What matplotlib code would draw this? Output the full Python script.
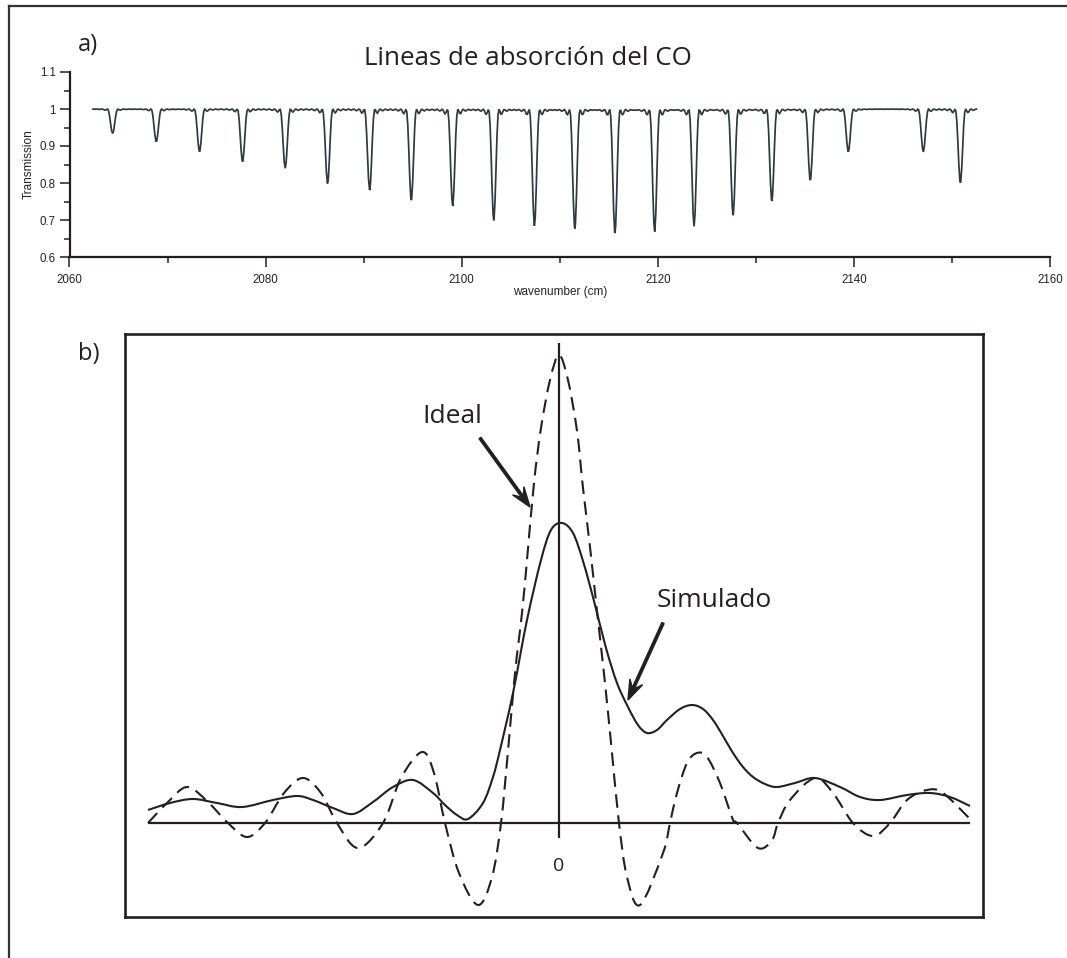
import numpy as np
import matplotlib
matplotlib.use("Agg")
import matplotlib.pyplot as plt
from matplotlib.path import Path
from matplotlib.patches import PathPatch
from matplotlib.lines import Line2D
from matplotlib.ticker import MultipleLocator, FuncFormatter

# ---- panel a: CO rovibrational lines (P and R branch) ----
line_centers = [2064.40, 2068.85, 2073.26, 2077.65, 2082.00, 2086.32, 2090.61,
                2094.86, 2099.08, 2103.27, 2107.42, 2111.54, 2115.63, 2119.68,
                2123.70, 2127.68, 2131.63, 2135.55, 2139.43, 2147.08, 2150.86]
line_minima = [0.934, 0.912, 0.885, 0.858, 0.840, 0.799, 0.781,
               0.754, 0.739, 0.700, 0.686, 0.678, 0.666, 0.670,
               0.684, 0.714, 0.752, 0.808, 0.885, 0.885, 0.801]
spectrum_start, spectrum_end = 2062.4, 2152.6
x_ticks = [2060, 2080, 2100, 2120, 2140, 2160]
y_ticks = [0.6, 0.7, 0.8, 0.9, 1.0, 1.1]

# ---- panel b: instrument line shapes (u: offset, h: height above baseline) ----
ideal_u = [-411, -392, -372, -352, -331, -312, -294, -275, -256, -238, -222,
           -201, -176, -158, -137, -125, -114, -100, -81, -67, -58, -51, -44,
           -37, -32, -25, -18, -9, 0, 9, 18, 24, 31, 38, 46, 53, 60, 68, 81,
           104, 111, 118, 128, 138, 148, 161, 174, 178, 199, 213, 219, 231,
           256, 274, 294, 314, 331, 348, 368, 384, 411]
ideal_h = [0, 20, 36, 22, 0, -14, 0, 30, 45, 30, 0,
           -25, 0, 45, 71, 50, 0, -50, -82, -54, 0, 72, 150,
           210, 263, 340, 395, 443, 468, 443, 392, 335, 276, 212, 140, 70, 0, -54, -82,
           -30, 0, 30, 60, 70, 66, 40, 3, 0, -25, -17, 0, 23,
           45, 30, 0, -13, 0, 23, 33, 30, 4]
sim_u = [-411, -389, -366, -342, -317, -286, -262, -246, -226, -206, -186,
         -166, -146, -126, -114, -102, -91, -76, -66, -59, -46, -32, -18,
         -8, 3, 14, 24, 35, 47, 58, 69, 79, 88, 98, 108, 121, 133, 144, 154,
         164, 174, 184, 194, 206, 218, 236, 256, 281, 301, 321, 348, 371,
         391, 411]
sim_h = [13, 20, 24, 20, 16, 23, 27, 23, 15, 9, 21,
         36, 43, 30, 18, 8, 4, 20, 46, 73, 130, 203, 263,
         293, 300, 290, 262, 222, 175, 140, 116, 98, 90, 93, 103, 114, 118, 114, 103,
         87, 70, 56, 46, 39, 36, 40, 45, 36, 26, 23, 28, 30,
         26, 17]

INK = "#231f20"
SPEC = "#2e3b3d"

W, H = 1067, 958
fig = plt.figure(figsize=(W / 100, H / 100), dpi=100)
fig.patch.set_facecolor("white")


def fx(px):
    return px / W


def fy(py):
    return 1 - py / H


# outer frame (left and top edges)
fig.add_artist(Line2D([fx(9), fx(9)], [0, fy(5.5)], color="#333333", lw=1.6))
fig.add_artist(Line2D([fx(9), 1.0], [fy(5.5), fy(5.5)], color="#333333", lw=1.6))

# ---------------- panel a ----------------
ax1 = fig.add_axes([fx(69.5), fy(257), fx(1050) - fx(69.5), fy(72) - fy(257)])
grid = np.arange(spectrum_start, spectrum_end, 0.1)
nu = np.union1d(grid, line_centers)
width = 0.54
trans = np.ones_like(nu)
for c, m in zip(line_centers, line_minima):
    trans -= (1 - m) * np.sinc((nu - c) / width) ** 2
ax1.plot(nu, trans, color=SPEC, lw=1.25, solid_joinstyle="miter")

ax1.set_xlim(2060, 2160)
ax1.set_ylim(0.6, 1.1)
for s in ("top", "right"):
    ax1.spines[s].set_visible(False)
for s in ("left", "bottom"):
    ax1.spines[s].set_linewidth(1.6)
    ax1.spines[s].set_color(INK)
ax1.set_xticks(x_ticks)
ax1.set_yticks(y_ticks)
ax1.xaxis.set_minor_locator(MultipleLocator(10))
ax1.yaxis.set_minor_locator(MultipleLocator(0.05))
ax1.yaxis.set_major_formatter(FuncFormatter(lambda v, p: f"{v:g}"))
ax1.tick_params(axis="both", which="major", length=7, width=1.1, color=INK,
                labelsize=8.3, labelcolor="#222222")
ax1.tick_params(axis="both", which="minor", length=4.5, width=1.1, color=INK)
ax1.tick_params(axis="x", which="major", pad=5)
ax1.tick_params(axis="y", which="major", pad=3)
for lab in ax1.get_xticklabels() + ax1.get_yticklabels():
    lab.set_family("Liberation Sans")
ax1.set_xlabel("wavenumber (cm)", family="Liberation Sans", fontsize=8.5,
               color="#222222")
ax1.set_ylabel("Transmission", family="Liberation Sans", fontsize=8.5,
               color="#222222")
ax1.xaxis.set_label_coords(0.5, -0.157)
ax1.yaxis.set_label_coords(-0.035, 0.5)

fig.text(fx(528), fy(65), "Lineas de absorción del CO", family="Open Sans",
         fontsize=18.6, color=INK, ha="center", va="baseline")
fig.text(fx(78), fy(51), "a)", family="Open Sans", fontsize=17, color=INK,
         ha="left", va="baseline")

# ---------------- panel b ----------------
ax2 = fig.add_axes([fx(125), fy(917), fx(983) - fx(125), fy(334) - fy(917)])
ax2.set_xlim(125 - 559, 983 - 559)
ax2.set_ylim(823 - 917, 823 - 334)
ax2.set_xticks([])
ax2.set_yticks([])
for s in ax2.spines.values():
    s.set_linewidth(1.9)
    s.set_color(INK)


def smooth_path(us, hs):
    pts = np.column_stack([us, hs]).astype(float)
    verts = [pts[0]]
    codes = [Path.MOVETO]
    n = len(pts)
    for i in range(n - 1):
        p0 = pts[i - 1] if i > 0 else pts[i]
        p1 = pts[i]
        p2 = pts[i + 1]
        p3 = pts[i + 2] if i + 2 < n else pts[i + 1]
        verts += [p1 + (p2 - p0) / 6.0, p2 - (p3 - p1) / 6.0, p2]
        codes += [Path.CURVE4] * 3
    return Path(verts, codes)


# axes of the line-shape sketch
ax2.plot([-411, 411], [0, 0], color=INK, lw=1.6, solid_capstyle="butt")
ax2.plot([0, 0], [-15, 480], color=INK, lw=1.6, solid_capstyle="butt")

ax2.add_patch(PathPatch(smooth_path(ideal_u, ideal_h), fill=False, ec=INK,
                        lw=1.5, linestyle=(0, (6.5, 3.6)), capstyle="butt"))
ax2.add_patch(PathPatch(smooth_path(sim_u, sim_h), fill=False, ec=INK,
                        lw=1.5))

ax2.text(0, -43, "0", family="Open Sans", fontsize=14, color=INK,
         ha="center", va="center")

ax2.text(-137, 400, "Ideal", family="Open Sans", fontsize=19, color=INK,
         ha="left", va="baseline")
ax2.text(98, 216, "Simulado", family="Open Sans", fontsize=19, color=INK,
         ha="left", va="baseline")

ax2.arrow(-79, 385, 50, -69, width=2.4, head_width=14, head_length=20,
          overhang=0.35, length_includes_head=True, color=INK)
ax2.arrow(104, 200, -35, -77, width=2.4, head_width=14, head_length=20,
          overhang=0.35, length_includes_head=True, color=INK)

fig.text(fx(78), fy(360), "b)", family="Open Sans", fontsize=17, color=INK,
         ha="left", va="baseline")

fig.savefig("out.png", dpi=100, facecolor="white")
